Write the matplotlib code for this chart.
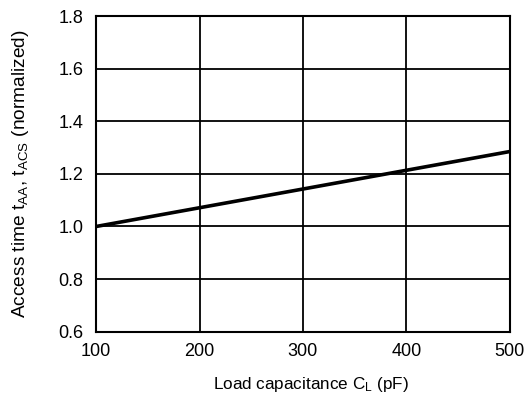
import matplotlib
matplotlib.use("Agg")
import matplotlib.pyplot as plt

plt.rcParams['font.family'] = ['Liberation Sans', 'DejaVu Sans']
plt.rcParams['mathtext.fontset'] = 'custom'
plt.rcParams['mathtext.rm'] = 'Liberation Sans'
plt.rcParams['mathtext.it'] = 'Liberation Sans'

load_pf = [100, 500]
access_norm = [1.0, 1.285]
x_ticks = [100, 200, 300, 400, 500]
y_ticks = [0.6, 0.8, 1.0, 1.2, 1.4, 1.6, 1.8]

fig = plt.figure(figsize=(5.31, 4.03), dpi=100)
ax = fig.add_axes([0.181, 0.177, 0.779, 0.783])
ax.plot(load_pf, access_norm, color='black', lw=2.6, solid_capstyle='butt', zorder=3)
ax.set_xlim(100, 500)
ax.set_ylim(0.6, 1.8)
ax.set_xticks(x_ticks)
ax.set_yticks(y_ticks)
ax.set_yticklabels([f"{v:.1f}" for v in y_ticks])
ax.grid(True, color='black', lw=1.3)
for s in ax.spines.values():
    s.set_linewidth(1.5)
ax.tick_params(length=0, labelsize=13)
ax.tick_params(axis='x', pad=8)
ax.tick_params(axis='y', pad=9)
ax.set_xlabel(r"Load capacitance C$_{\mathrm{L}}$ (pF)", fontsize=12.3)
ax.set_ylabel(r"Access time t$_{\mathrm{AA}}$, t$_{\mathrm{ACS}}$ (normalized)", fontsize=13.8)
ax.xaxis.set_label_coords(0.52, -0.138)
ax.yaxis.set_label_coords(-0.157, 0.5)
fig.savefig("out.png", dpi=100)
